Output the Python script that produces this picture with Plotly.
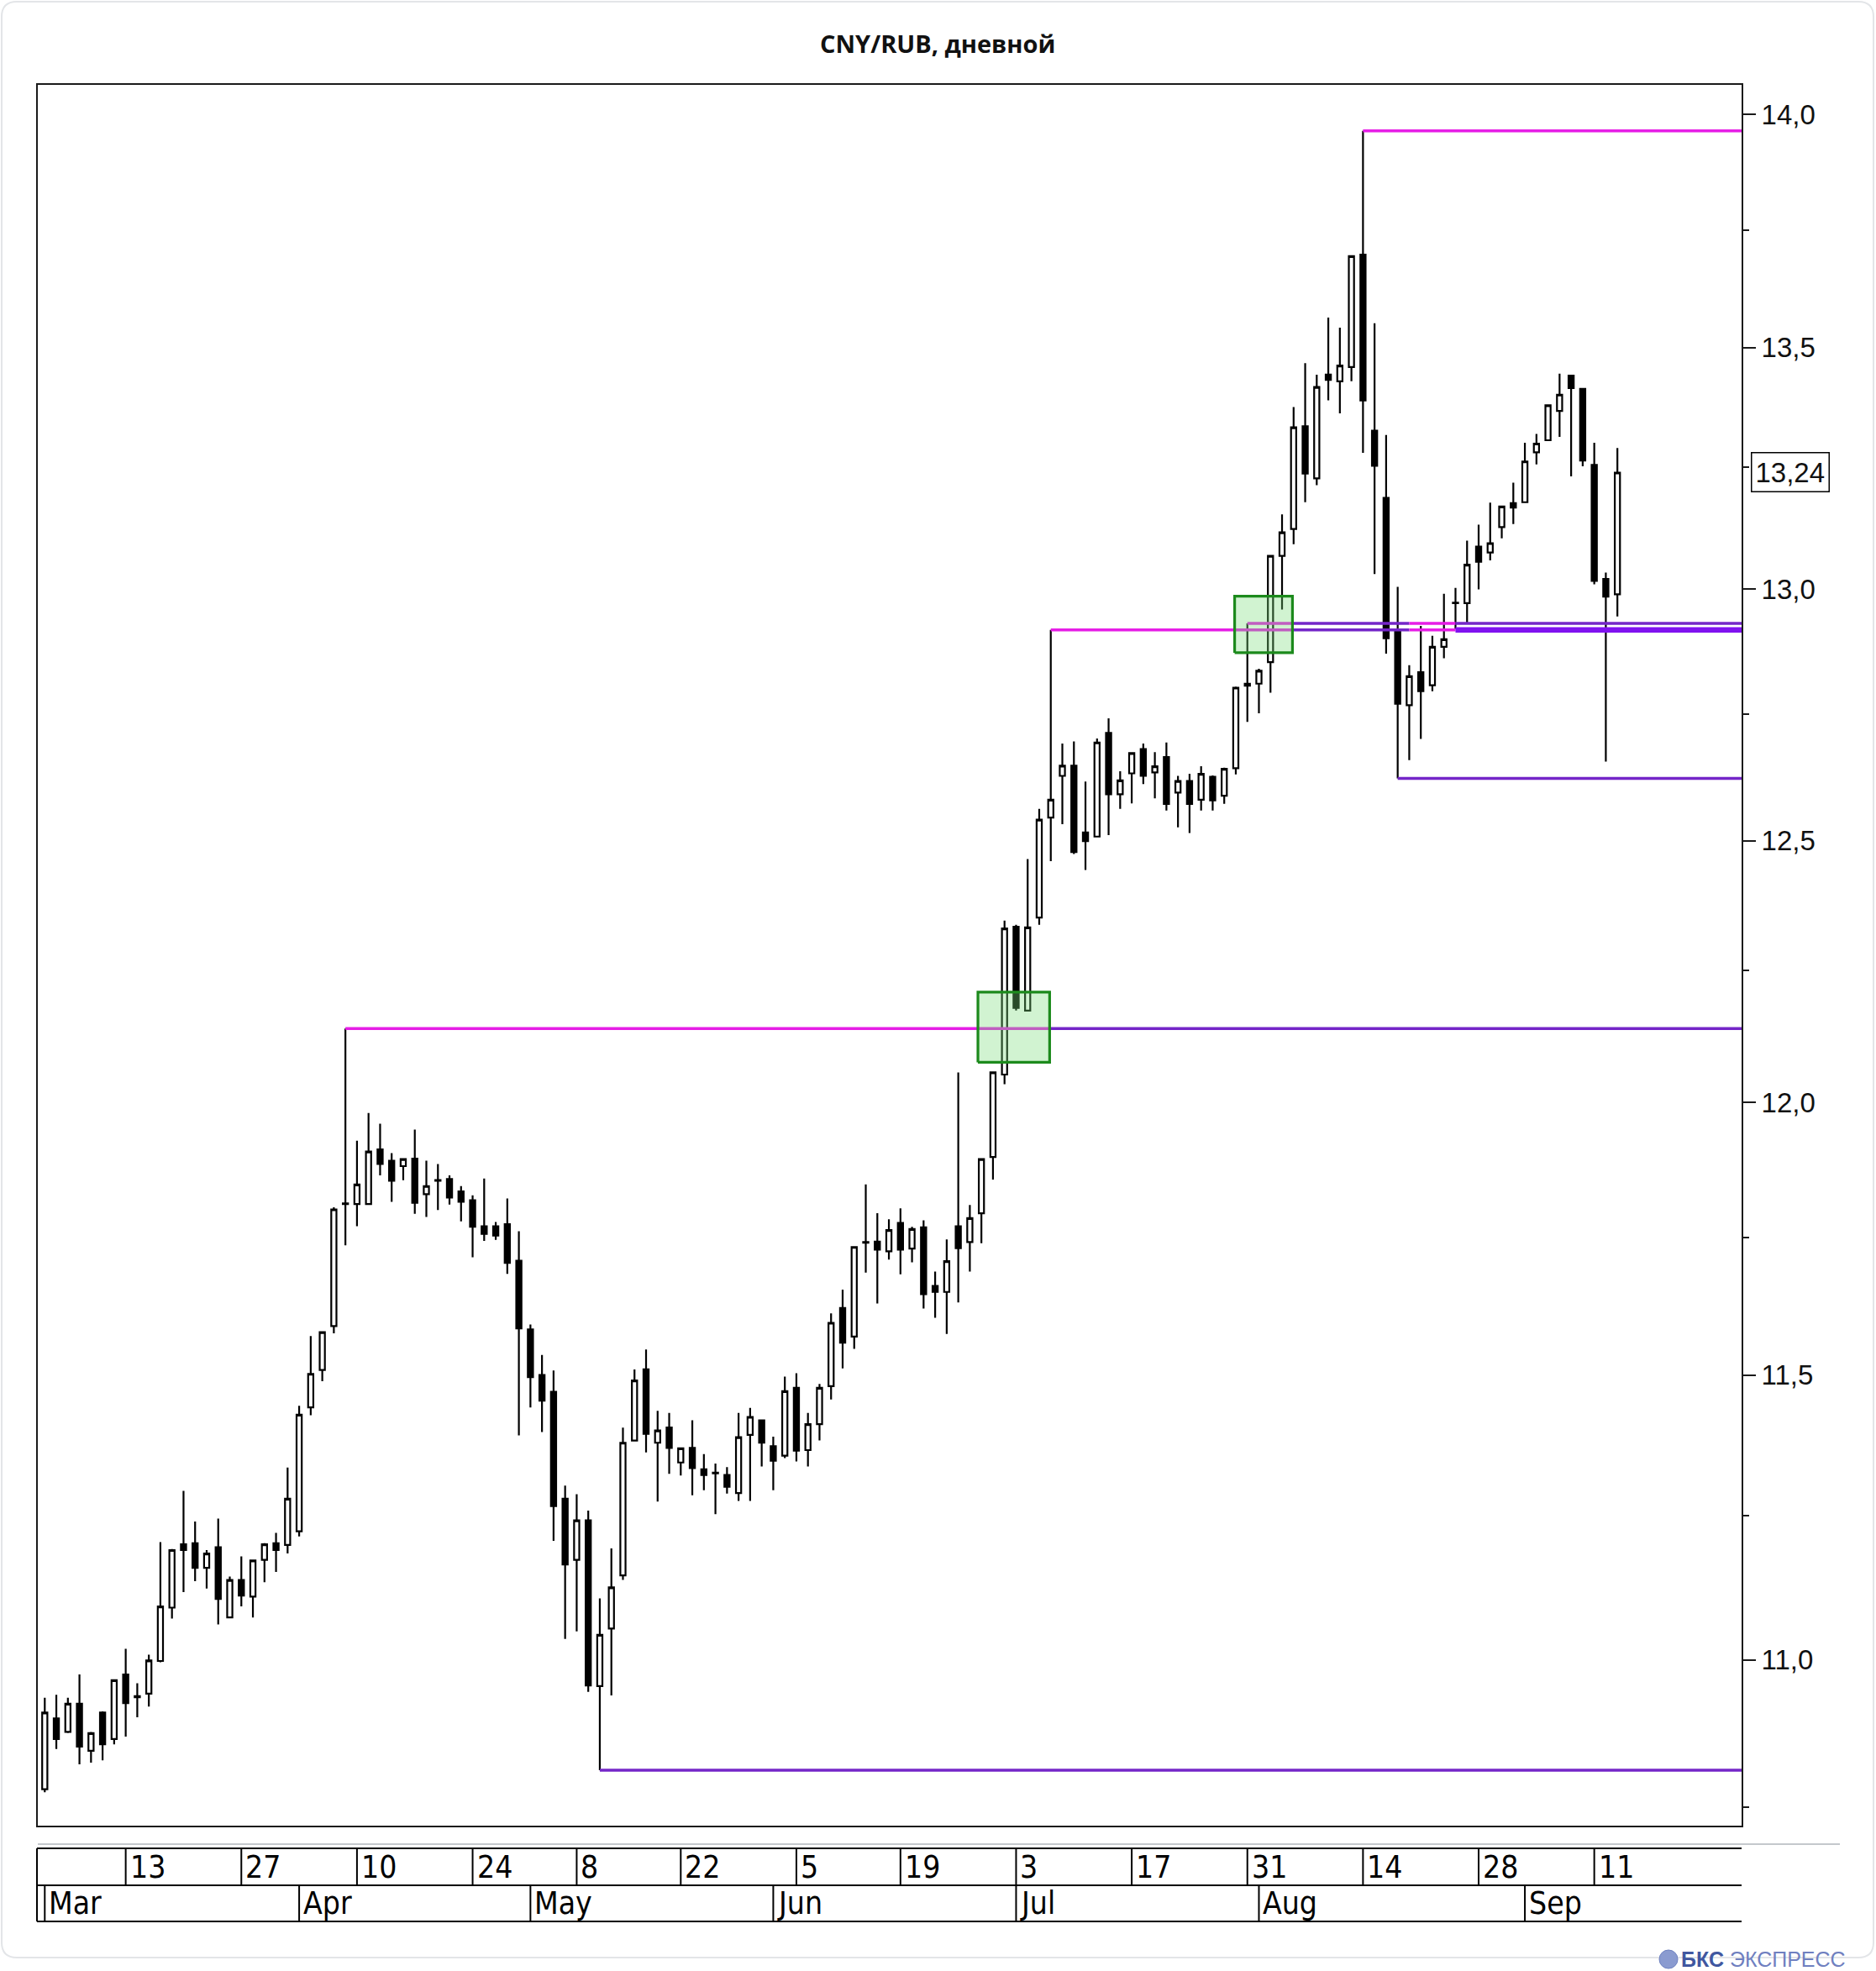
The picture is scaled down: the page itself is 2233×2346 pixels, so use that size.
import math
import pandas as pd
import plotly.graph_objects as go

# ---------------- data ----------------
start_date = "2023-03-01"
end_date = "2023-09-13"
holidays = ["2023-03-08", "2023-05-01", "2023-05-09", "2023-06-12"]

open_ = [
    10.780, 10.900, 10.877, 10.925, 10.845, 10.910, 10.865, 10.975, 10.938, 10.942,
    10.998, 11.090, 11.200, 11.202, 11.159, 11.195, 11.073, 11.138, 11.109, 11.173,
    11.202, 11.199, 11.223, 11.442, 11.509, 11.588, 11.811, 11.811, 11.811, 11.912,
    11.891, 11.881, 11.895, 11.829, 11.854, 11.857, 11.834, 11.818, 11.770, 11.770,
    11.774, 11.707, 11.582, 11.500, 11.470, 11.280, 11.173, 11.242, 10.955, 11.054,
    11.146, 11.383, 11.510, 11.379, 11.406, 11.344, 11.370, 11.332, 11.326, 11.322,
    11.290, 11.393, 11.419, 11.373, 11.356, 11.477, 11.366, 11.412, 11.480, 11.621,
    11.569, 11.740, 11.742, 11.724, 11.776, 11.729, 11.768, 11.661, 11.650, 11.770,
    11.741, 11.794, 11.898, 12.052, 12.333, 12.173, 12.351, 12.545, 12.627, 12.647,
    12.516, 12.508, 12.712, 12.591, 12.632, 12.680, 12.634, 12.664, 12.594, 12.617,
    12.580, 12.625, 12.588, 12.642, 12.810, 12.810, 12.853, 13.068, 13.123, 13.335,
    13.227, 13.443, 13.429, 13.459, 13.697, 13.326, 13.187, 12.918, 12.767, 12.833,
    12.807, 12.884, 12.972, 12.972, 13.087, 13.075, 13.127, 13.176, 13.178, 13.281,
    13.306, 13.367, 13.441, 13.413, 13.255, 13.021, 12.990]

high = [
    10.935, 10.940, 10.935, 10.975, 10.877, 10.912, 10.966, 11.019, 10.960, 11.009,
    11.204, 11.192, 11.294, 11.240, 11.190, 11.245, 11.144, 11.179, 11.173, 11.202,
    11.220, 11.335, 11.445, 11.570, 11.578, 11.805, 12.139, 11.928, 11.980, 11.960,
    11.905, 11.895, 11.949, 11.891, 11.885, 11.864, 11.844, 11.827, 11.858, 11.778,
    11.821, 11.761, 11.591, 11.536, 11.508, 11.303, 11.288, 11.259, 11.106, 11.193,
    11.406, 11.510, 11.546, 11.436, 11.432, 11.370, 11.419, 11.359, 11.342, 11.336,
    11.432, 11.441, 11.420, 11.390, 11.497, 11.503, 11.432, 11.484, 11.611, 11.654,
    11.733, 11.847, 11.794, 11.783, 11.803, 11.769, 11.781, 11.687, 11.746, 12.056,
    11.809, 11.895, 12.058, 12.345, 12.337, 12.464, 12.562, 12.918, 12.691, 12.695,
    12.616, 12.701, 12.741, 12.636, 12.674, 12.691, 12.674, 12.693, 12.627, 12.631,
    12.646, 12.628, 12.643, 12.804, 12.931, 12.840, 13.070, 13.153, 13.375, 13.467,
    13.443, 13.563, 13.542, 13.694, 13.964, 13.551, 13.317, 13.005, 12.847, 12.926,
    12.906, 12.991, 13.003, 13.099, 13.132, 13.177, 13.170, 13.218, 13.301, 13.319,
    13.380, 13.445, 13.442, 13.414, 13.301, 13.034, 13.290]

low = [
    10.775, 10.848, 10.875, 10.822, 10.825, 10.829, 10.856, 10.869, 10.902, 10.920,
    10.996, 11.071, 11.117, 11.136, 11.123, 11.061, 11.072, 11.092, 11.073, 11.134,
    11.152, 11.184, 11.214, 11.428, 11.489, 11.575, 11.735, 11.770, 11.809, 11.864,
    11.815, 11.855, 11.793, 11.787, 11.800, 11.810, 11.779, 11.713, 11.743, 11.745,
    11.683, 11.392, 11.442, 11.398, 11.206, 11.036, 11.049, 10.945, 10.812, 10.939,
    11.138, 11.382, 11.362, 11.275, 11.324, 11.321, 11.286, 11.295, 11.253, 11.289,
    11.276, 11.276, 11.337, 11.295, 11.352, 11.346, 11.337, 11.383, 11.456, 11.512,
    11.547, 11.685, 11.629, 11.709, 11.682, 11.704, 11.620, 11.603, 11.574, 11.631,
    11.687, 11.739, 11.856, 12.034, 12.173, 12.172, 12.337, 12.460, 12.532, 12.474,
    12.443, 12.507, 12.511, 12.562, 12.573, 12.611, 12.583, 12.559, 12.526, 12.515,
    12.559, 12.559, 12.572, 12.630, 12.734, 12.751, 12.792, 12.959, 13.092, 13.178,
    13.213, 13.389, 13.362, 13.429, 13.280, 13.031, 12.870, 12.622, 12.658, 12.700,
    12.795, 12.861, 12.920, 12.932, 13.000, 13.059, 13.104, 13.133, 13.177, 13.256,
    13.305, 13.313, 13.231, 13.252, 13.010, 12.655, 12.945]

close = [
    10.910, 10.865, 10.925, 10.852, 10.875, 10.856, 10.965, 10.926, 10.936, 10.999,
    11.092, 11.190, 11.190, 11.159, 11.184, 11.105, 11.138, 11.111, 11.172, 11.200,
    11.190, 11.280, 11.429, 11.502, 11.577, 11.801, 11.812, 11.847, 11.908, 11.885,
    11.854, 11.894, 11.813, 11.844, 11.855, 11.823, 11.815, 11.769, 11.756, 11.753,
    11.703, 11.584, 11.496, 11.454, 11.267, 11.165, 11.242, 10.956, 11.043, 11.125,
    11.379, 11.490, 11.395, 11.401, 11.370, 11.369, 11.334, 11.322, 11.325, 11.301,
    11.389, 11.425, 11.379, 11.347, 11.471, 11.365, 11.412, 11.477, 11.594, 11.558,
    11.732, 11.741, 11.727, 11.763, 11.727, 11.765, 11.646, 11.650, 11.706, 11.730,
    11.785, 11.894, 12.056, 12.330, 12.178, 12.332, 12.541, 12.580, 12.647, 12.478,
    12.499, 12.693, 12.591, 12.618, 12.672, 12.627, 12.646, 12.572, 12.617, 12.572,
    12.631, 12.579, 12.641, 12.802, 12.806, 12.836, 13.068, 13.116, 13.333, 13.237,
    13.417, 13.432, 13.462, 13.694, 13.389, 13.253, 12.901, 12.770, 12.825, 12.795,
    12.884, 12.899, 12.973, 13.050, 13.056, 13.094, 13.169, 13.167, 13.262, 13.299,
    13.379, 13.401, 13.415, 13.264, 13.017, 12.985, 13.239]

day_tick_dates = ["2023-03-13", "2023-03-27", "2023-04-10", "2023-04-24", "2023-05-08",
                  "2023-05-22", "2023-06-05", "2023-06-19", "2023-07-03", "2023-07-17",
                  "2023-07-31", "2023-08-14", "2023-08-28", "2023-09-11"]
day_tick_labels = ["13", "27", "10", "24", "8", "22", "5", "19", "3", "17", "31", "14", "28", "11"]
month_tick_dates = ["2023-03-01", "2023-04-03", "2023-05-02", "2023-06-01",
                    "2023-07-03", "2023-08-01", "2023-09-01"]
month_tick_labels = ["Mar", "Apr", "May", "Jun", "Jul", "Aug", "Sep"]

y_major = [11.0, 11.5, 12.0, 12.5, 13.0, 13.5, 14.0]
y_minor = [10.75, 11.25, 11.75, 12.25, 12.75, 13.25, 13.75]
y_tick_labels = ["11,0", "11,5", "12,0", "12,5", "13,0", "13,5", "14,0"]
last_price_label = "13,24"
last_price = 13.24

# support / resistance levels: value, start index, end index (None = chart edge), role
level_values = [12.139, 12.139, 12.918, 12.918, 12.918, 12.918,
                12.931, 12.931, 12.931, 12.931, 13.964, 12.622, 10.812]
level_starts = [26, 86.9, 87, 107.9, 118.0, 122.0, 104, 107.9, 118.0, 122.0, 114, 117, 48]
level_ends = [86.9, None, 107.9, 118.0, 122.0, None, 107.9, 118.0, 122.0, None, None, None, None]
level_roles = ["res", "sup", "res", "sup", "res", "sup_strong",
               "res", "sup", "res", "sup", "res", "sup", "sup"]

# breakout zones
zone_x0 = [80.7, 102.9]
zone_x1 = [86.9, 107.9]
zone_low = [12.075, 12.872]
zone_high = [12.208, 12.986]

# ---------------- layout geometry ----------------
W, H = 2233, 2346
ML, MR, MT, MB = 45, 160, 101, 173
PW, PH = W - ML - MR, H - MT - MB
X_MIN, X_MAX = -0.602, 146.74
Y_MIN, Y_MAX = 10.719, 14.0648


def pxx(px):
    return (px - ML) / PW


def pyy(py):
    return (H - MB - py) / PH


dates = [d for d in pd.bdate_range(start_date, end_date)
         if d.strftime("%Y-%m-%d") not in holidays]
date_str = [d.strftime("%Y-%m-%d") for d in dates]
idx = list(range(len(dates)))

MAGENTA = "#e61ee6"
PURPLE = "#7426c8"
PURPLE_STRONG = "#8012f0"
role_style = {"res": (MAGENTA, 3.5), "sup": (PURPLE, 3.5), "sup_strong": (PURPLE_STRONG, 6.5)}

fig = go.Figure()

for v, s, e, r in zip(level_values, level_starts, level_ends, level_roles):
    col, wd = role_style[r]
    fig.add_trace(go.Scatter(
        x=[s, X_MAX if e is None else e], y=[v, v], mode="lines",
        line=dict(color=col, width=wd), hoverinfo="skip", showlegend=False))

fig.add_trace(go.Candlestick(
    x=idx, open=open_, high=high, low=low, close=close,
    increasing=dict(line=dict(color="black", width=2.2), fillcolor="white"),
    decreasing=dict(line=dict(color="black", width=2.2), fillcolor="black"),
    whiskerwidth=0, hoverinfo="skip", showlegend=False))

for x0, x1, y0, y1 in zip(zone_x0, zone_x1, zone_low, zone_high):
    fig.add_trace(go.Scatter(
        x=[x0, x1, x1, x0, x0], y=[y0, y0, y1, y1, y0], mode="lines",
        fill="toself", fillcolor="rgba(120,220,120,0.34)",
        line=dict(color="#1c8a1c", width=3.2), hoverinfo="skip", showlegend=False))

shapes = []
annotations = []

# title
annotations.append(dict(
    text="<b>CNY/RUB, дневной</b>", x=pxx(1116), y=pyy(52), xref="paper", yref="paper",
    xanchor="center", yanchor="middle", showarrow=False,
    font=dict(family="Open Sans", size=29, color="#111111")))

# last price marker
annotations.append(dict(
    text=last_price_label, x=pxx(2084), y=math.log10(last_price), xref="paper", yref="y",
    xanchor="left", yanchor="middle", showarrow=False,
    bordercolor="black", borderwidth=1.5, borderpad=4, bgcolor="white",
    font=dict(family="Liberation Sans, Arial", size=33, color="#111111")))

# date strip
ROW_TOP, ROW_MID, ROW_BOT, GRAY_Y = 2200, 2244, 2287, 2195
line_k = dict(color="black", width=2)
shapes.append(dict(type="line", xref="paper", yref="paper", x0=pxx(45), x1=pxx(2190),
                   y0=pyy(GRAY_Y), y1=pyy(GRAY_Y), line=dict(color="#c4c8cc", width=2)))
for yy in (ROW_TOP, ROW_MID, ROW_BOT):
    shapes.append(dict(type="line", xref="paper", yref="paper", x0=pxx(44), x1=1,
                       y0=pyy(yy), y1=pyy(yy), line=line_k))
shapes.append(dict(type="line", xref="paper", yref="paper", x0=pxx(44), x1=pxx(44),
                   y0=pyy(ROW_TOP), y1=pyy(ROW_BOT), line=line_k))

strip_font = dict(family="Liberation Sans Narrow, Arial Narrow, DejaVu Sans Condensed, sans-serif",
                  size=37, color="black")
for d, lab in zip(day_tick_dates, day_tick_labels):
    i = date_str.index(d)
    shapes.append(dict(type="line", xref="x", yref="paper", x0=i, x1=i,
                       y0=pyy(ROW_TOP), y1=pyy(ROW_MID), line=line_k))
    annotations.append(dict(text=lab, x=i, y=pyy((ROW_TOP + ROW_MID) / 2), xref="x", yref="paper",
                            xanchor="left", yanchor="middle", xshift=3, showarrow=False,
                            font=strip_font))
for d, lab in zip(month_tick_dates, month_tick_labels):
    i = date_str.index(d)
    shapes.append(dict(type="line", xref="x", yref="paper", x0=i, x1=i,
                       y0=pyy(ROW_MID), y1=pyy(ROW_BOT), line=line_k))
    annotations.append(dict(text=lab, x=i, y=pyy((ROW_MID + ROW_BOT) / 2), xref="x", yref="paper",
                            xanchor="left", yanchor="middle", xshift=3, showarrow=False,
                            font=strip_font))

# card border (rounded)
cx0, cy0, cx1, cy1, rr = 2, 2, 2230, 2330, 18
path = (f"M {pxx(cx0 + rr)} {pyy(cy0)} L {pxx(cx1 - rr)} {pyy(cy0)} "
        f"Q {pxx(cx1)} {pyy(cy0)} {pxx(cx1)} {pyy(cy0 + rr)} "
        f"L {pxx(cx1)} {pyy(cy1 - rr)} Q {pxx(cx1)} {pyy(cy1)} {pxx(cx1 - rr)} {pyy(cy1)} "
        f"L {pxx(cx0 + rr)} {pyy(cy1)} Q {pxx(cx0)} {pyy(cy1)} {pxx(cx0)} {pyy(cy1 - rr)} "
        f"L {pxx(cx0)} {pyy(cy0 + rr)} Q {pxx(cx0)} {pyy(cy0)} {pxx(cx0 + rr)} {pyy(cy0)} Z")
shapes.append(dict(type="path", xref="paper", yref="paper", path=path,
                   line=dict(color="#e3e5e8", width=2), layer="below"))

# logo
shapes.append(dict(type="circle", xref="paper", yref="paper",
                   x0=pxx(1975), x1=pxx(1997), y0=pyy(2343), y1=pyy(2321),
                   fillcolor="#8a9bd0", line=dict(color="#6f82c0", width=1)))
annotations.append(dict(
    text="<b><span style='color:#4057a0'>БКС</span></b> <span style='color:#6f80c0'>ЭКСПРЕСС</span>",
    x=pxx(1999), y=pyy(2332), xref="paper", yref="paper", xanchor="left", yanchor="middle",
    showarrow=False, font=dict(family="Liberation Sans, Arial", size=25)))

fig.update_layout(
    width=W, height=H,
    margin=dict(l=ML, r=MR, t=MT, b=MB, pad=0),
    paper_bgcolor="white", plot_bgcolor="white",
    showlegend=False, hovermode=False, dragmode=False,
    boxgap=0.36,
    shapes=shapes, annotations=annotations,
    xaxis=dict(type="linear", range=[X_MIN, X_MAX], showgrid=False, zeroline=False,
               showticklabels=False, ticks="", showline=True, mirror=True,
               linecolor="#1a1a1a", linewidth=2, rangeslider=dict(visible=False),
               automargin=False, fixedrange=True),
    yaxis=dict(type="log", range=[math.log10(Y_MIN), math.log10(Y_MAX)], side="right",
               showgrid=False, zeroline=False, showline=True, mirror=True,
               linecolor="#1a1a1a", linewidth=2,
               tickmode="array", tickvals=y_major, ticktext=y_tick_labels,
               ticks="outside", ticklen=15, tickwidth=2, tickcolor="#1a1a1a",
               tickfont=dict(family="Liberation Sans, Arial", size=33, color="#111111"),
               minor=dict(tickmode="array", tickvals=y_minor, ticks="outside",
                          ticklen=7, tickwidth=2, tickcolor="#1a1a1a", showgrid=False),
               automargin=False, fixedrange=True),
)

fig.write_html("out.html", config={"displayModeBar": False, "staticPlot": True},
               post_script="document.body.style.margin='0';document.body.style.overflow='hidden';")
